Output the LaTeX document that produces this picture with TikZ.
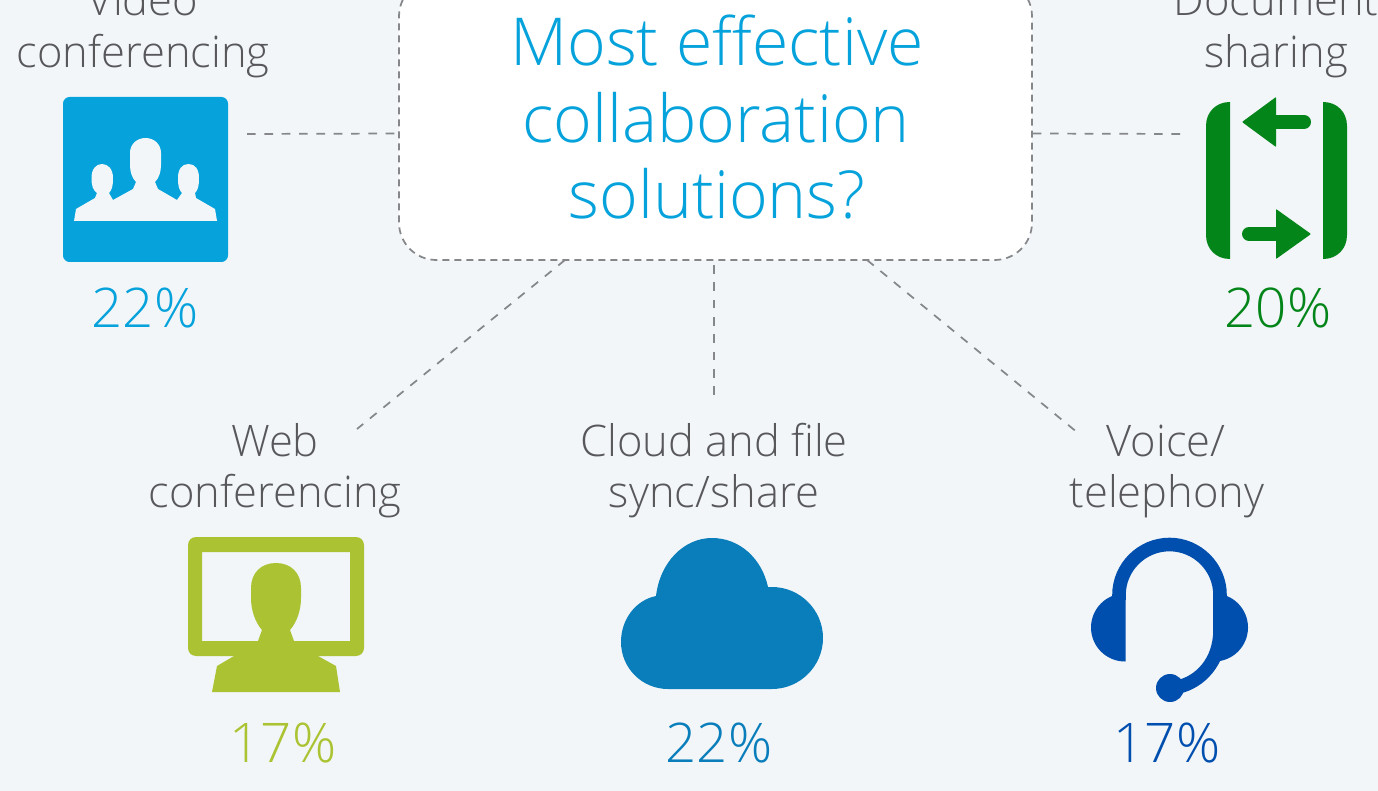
\documentclass[tikz,border=0pt]{standalone}
\usepackage{fontspec}
\setmainfont{Open Sans Light}
\definecolor{bgc}{HTML}{F2F6F9}
\definecolor{txt}{HTML}{58585B}
\definecolor{cya}{HTML}{05A2DB}
\definecolor{grn}{HTML}{04851A}
\definecolor{lim}{HTML}{ABC332}
\definecolor{clo}{HTML}{0A7DBB}
\definecolor{nav}{HTML}{004FAF}
\definecolor{dsh}{HTML}{85878A}
\tikzset{
  lbl/.style={text=txt,font=\fontsize{32.6pt}{39pt}\selectfont,align=center,inner sep=0,anchor=base},
  pct/.style={font=\fontsize{41pt}{50pt}\selectfont,inner sep=0,anchor=base},
  title/.style={text=cya,font=\fontsize{49.6pt}{60pt}\selectfont,align=center,inner sep=0,anchor=base},
  link/.style={draw=dsh,line width=1.3pt,dash pattern=on 6.5pt off 6.5pt},
  panel/.style={draw=dsh,line width=1.3pt,dash pattern=on 5.2pt off 3.8pt,fill=white,rounded corners=28pt,minimum width=474.75pt,minimum height=210.75pt,inner sep=0}
}
\begin{document}
\begin{tikzpicture}[x=.75pt,y=-.75pt]
\useasboundingbox (0,0) rectangle (1378,791);
\clip (0,0) rectangle (1378,791);
\fill[bgc] (0,0) rectangle (1378,791);
% central panel
\node[panel] (box) at (715.5,119.5) {};
\node[title] (t1) at (717,65.5) {Most effective};
\node[title] (t2) at (716,142.5) {collaboration};
\node[title] (t3) at (717,218.5) {solutions?};
% connector ends
\coordinate (c1) at (247,134);
\coordinate (c1b) at (399,133.5);
\coordinate (c2) at (1180,134);
\coordinate (c2b) at (1032,133.5);
\coordinate (c3) at (357,429);
\coordinate (c3b) at (565,260);
\coordinate (c4) at (714,395);
\coordinate (c4b) at (714,260);
\coordinate (c5) at (1078,433);
\coordinate (c5b) at (867,260);
\draw[link] (c1) -- (c1b);
\draw[link] (c2) -- (c2b);
\draw[link] (c3b) -- (c3);
\draw[link] (c4) -- (c4b);
\draw[link] (c5b) -- (c5);
% video conferencing
\node[lbl] (v1) at (143,16) {Video};
\node[lbl] (v2) at (143,68) {conferencing};
\fill[cya,rounded corners=5pt] (63,97) rectangle (228,262);
\fill[bgc] (74,221) -- (76,209) -- (95,198) -- (97,193)
  .. controls (93,190) and (91.5,186) .. (91.5,178)
  .. controls (91.5,169) and (96,164) .. (102,164)
  .. controls (108,164) and (113,169) .. (113,178)
  .. controls (113,186) and (112,190) .. (109,193) -- (113,200)
  -- (133,189) -- (136,182)
  .. controls (132,178) and (130,172) .. (130,165)
  -- (130,153) .. controls (130,144) and (137,138) .. (145.5,138)
  .. controls (154,138) and (161,144) .. (161,153) -- (161,165)
  .. controls (161,172) and (159,178) .. (155,182) -- (158,189)
  -- (177,200) -- (182,193)
  .. controls (179,190) and (178,186) .. (178,178)
  .. controls (178,169) and (182,164) .. (188.5,164)
  .. controls (195,164) and (199,169) .. (199,178)
  .. controls (199,186) and (198,190) .. (195,193) -- (196,198)
  -- (215,209) -- (217,221) -- cycle;
\node[pct,text=cya] (p1) at (145,328) {22\%};
% document sharing
\node[lbl] (d1) at (1276,16) {Document};
\node[lbl] (d2) at (1276,68) {sharing};
\fill[grn] (1230,102) .. controls (1216,102) and (1206,112) .. (1206,126) -- (1206,235)
  .. controls (1206,249) and (1216,259) .. (1230,259) -- cycle;
\fill[grn] (1323,102) .. controls (1337,102) and (1347,112) .. (1347,126) -- (1347,235)
  .. controls (1347,249) and (1337,259) .. (1323,259) -- cycle;
\fill[grn,rounded corners=.5pt] (1242,122) -- (1276,97) -- (1276,147) -- cycle;
\draw[grn,line width=10.5pt,line cap=round] (1270,122) -- (1304,122);
\fill[grn,rounded corners=.5pt] (1311,234) -- (1276,209) -- (1276,259) -- cycle;
\draw[grn,line width=10.5pt,line cap=round] (1249,234) -- (1282,234);
\node[pct,text=grn] (p2) at (1278,328) {20\%};
% web conferencing
\node[lbl] (w1) at (275,456) {Web};
\node[lbl] (w2) at (275,507) {conferencing};
\fill[lim,even odd rule,rounded corners=6pt] (188,537) rectangle (364,656)
  [sharp corners] (202,552) rectangle (350,641);
\fill[lim] (212,692) -- (217,666) -- (234,656) -- (258,641) -- (262,630)
  .. controls (255,622) and (251,610) .. (251,598)
  -- (251,588) .. controls (251,573) and (261,563) .. (276,563)
  .. controls (291,563) and (301,573) .. (301,588) -- (301,598)
  .. controls (301,610) and (297,622) .. (290,630) -- (294,641)
  -- (318,656) -- (336,666) -- (340,692) -- cycle;
\node[pct,text=lim] (p3) at (283,762) {17\%};
% cloud
\node[lbl] (k1) at (714,456) {Cloud and file};
\node[lbl] (k2) at (714,507) {sync/share};
\fill[clo] (668,689) -- (772,689)
  .. controls (800,689) and (823,666) .. (823,638)
  .. controls (823,610) and (800,587) .. (772,587)
  .. controls (770,587) and (769,587) .. (768,587)
  .. controls (762,559) and (740,538) .. (712,538)
  .. controls (684,538) and (660,562) .. (656,596)
  .. controls (636,600) and (621,619) .. (621,642)
  .. controls (621,668) and (642,689) .. (668,689) -- cycle;
\node[pct,text=clo] (p4) at (719,762) {22\%};
% headset
\node[lbl] (h1) at (1166,456) {Voice/};
\node[lbl] (h2) at (1167,507) {telephony};
\begin{scope}
\clip (1080,580) rectangle (1125.5,670);
\fill[nav] (1125,627.5) circle[radius=34];
\end{scope}
\begin{scope}
\clip (1213.5,580) rectangle (1260,670);
\fill[nav] (1214,627.5) circle[radius=34];
\end{scope}
\draw[nav,line width=10.2pt] (1119,600) -- (1119,595)
  .. controls (1119,567) and (1142,544.5) .. (1169.5,544.5)
  .. controls (1197,544.5) and (1220,567) .. (1220,595)
  -- (1220,630)
  .. controls (1220,662) and (1200,682) .. (1178,687);
\fill[nav] (1170,688) circle[radius=14];
\node[pct,text=nav] (p5) at (1167,762) {17\%};
\end{tikzpicture}
\end{document}
